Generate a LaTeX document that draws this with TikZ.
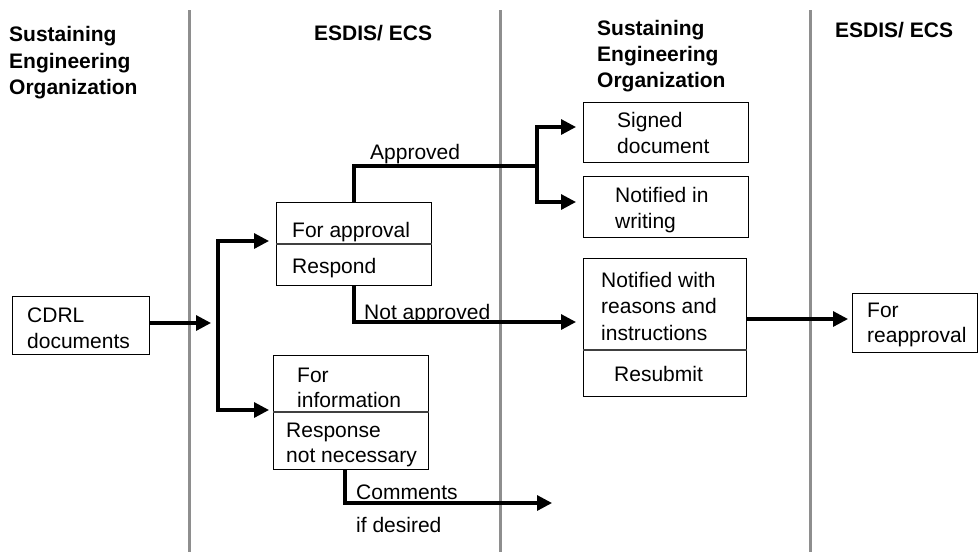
\documentclass[tikz,border=0pt]{standalone}
\usepackage{fontspec}
\setmainfont{Liberation Sans}
\usetikzlibrary{arrows.meta}
\definecolor{lanegray}{HTML}{8E8E8E}
\begin{document}
\begin{tikzpicture}[x=1pt,y=-1pt,
  lane/.style={draw=lanegray, line width=3pt},
  box/.style={draw, line width=1.3pt, anchor=north west, inner sep=0pt},
  split/.style={draw=black!75, line width=1.1pt},
  flow/.style={line width=3.2pt, -{Triangle[length=15pt,width=15pt]}},
  lbl/.style={anchor=base west, inner sep=0pt, font=\fontsize{21}{24}\selectfont},
  head/.style={anchor=base west, inner sep=0pt, font=\fontsize{21}{24}\selectfont\bfseries},
]
\useasboundingbox (0,0) rectangle (979,552);

% swimlane separators
\coordinate (l1t) at (189,10); \coordinate (l1b) at (189,552);
\coordinate (l2t) at (500,10); \coordinate (l2b) at (500,552);
\coordinate (l3t) at (810,10); \coordinate (l3b) at (810,552);
\draw[lane] (l1t) -- (l1b);
\draw[lane] (l2t) -- (l2b);
\draw[lane] (l3t) -- (l3b);

% lane headings
\node[head] (h1a) at (9,41) {Sustaining};
\node[head] (h1b) at (9,68) {Engineering};
\node[head] (h1c) at (9,94) {Organization};
\node[head] (h2)  at (314,40) {ESDIS/ ECS};
\node[head] (h3a) at (597,35) {Sustaining};
\node[head] (h3b) at (597,61) {Engineering};
\node[head] (h3c) at (597,87) {Organization};
\node[head] (h4)  at (835,37) {ESDIS/ ECS};

% boxes
\node[box, minimum width=137pt, minimum height=58pt] (cdrl) at (12,296) {};
\node[box, minimum width=155pt, minimum height=83pt] (appr) at (276,202) {};
\node[box, minimum width=155pt, minimum height=114pt] (info) at (273,355) {};
\node[box, minimum width=165pt, minimum height=60pt] (signed) at (583,102) {};
\node[box, minimum width=165pt, minimum height=61pt] (writ) at (583,176) {};
\node[box, minimum width=163pt, minimum height=138pt] (reasons) at (583,258) {};
\node[box, minimum width=125pt, minimum height=59pt] (reappr) at (852,293) {};

% box dividers
\draw[split] (appr.west |- 0,244) -- (appr.east |- 0,244);
\draw[split] (info.west |- 0,412) -- (info.east |- 0,412);
\draw[split] (reasons.west |- 0,350) -- (reasons.east |- 0,350);

% box texts
\node[lbl] (tc1) at (27,322) {CDRL};
\node[lbl] (tc2) at (27,348) {documents};
\node[lbl] (ta1) at (292,237) {For approval};
\node[lbl] (ta2) at (292,273) {Respond};
\node[lbl] (ti1) at (297,382) {For};
\node[lbl] (ti2) at (297,407) {information};
\node[lbl] (ti3) at (286,437) {Response};
\node[lbl] (ti4) at (286,462) {not necessary};
\node[lbl] (ts1) at (617,127) {Signed};
\node[lbl] (ts2) at (617,153) {document};
\node[lbl] (tw1) at (615,202) {Notified in};
\node[lbl] (tw2) at (615,228) {writing};
\node[lbl] (tr1) at (601,287) {Notified with};
\node[lbl] (tr2) at (601,313) {reasons and};
\node[lbl] (tr3) at (601,340) {instructions};
\node[lbl] (tr4) at (614,381) {Resubmit};
\node[lbl] (tf1) at (867,317) {For};
\node[lbl] (tf2) at (867,342) {reapproval};

% connector labels
\node[lbl] (lapp) at (370,159) {Approved};
\node[lbl] (lrej) at (364,319) {Not approved};
\node[lbl] (lc1) at (356,499) {Comments};
\node[lbl] (lc2) at (356,532) {if desired};

% routing points
\coordinate (cdrlTip) at (211,323);
\coordinate (fork) at (218,241);
\coordinate (forkLow) at (218,410);
\coordinate (apprTip) at (269,241);
\coordinate (infoTip) at (269,410);
\coordinate (apprBend) at (354,166);
\coordinate (apprFork) at (537,166);
\coordinate (sgnTip) at (576,127);
\coordinate (wriTip) at (576,202);
\coordinate (rejBend) at (354,322);
\coordinate (rejTip) at (576,322);
\coordinate (reTip) at (848,319);
\coordinate (cmtBend) at (345,503);
\coordinate (cmtTip) at (552,503);

% connectors
\draw[flow] (cdrl.east |- cdrlTip) -- (cdrlTip);
\draw[flow] (forkLow) -- (fork) -- (apprTip);
\draw[flow] (fork) -- (forkLow) -- (infoTip);
\draw[flow] (appr.north -| apprBend) -- (apprBend) -- (apprFork) |- (sgnTip);
\draw[flow] (apprFork) |- (wriTip);
\draw[flow] (appr.south -| rejBend) -- (rejBend) -- (rejTip);
\draw[flow] (reasons.east |- reTip) -- (reTip);
\draw[flow] (info.south -| cmtBend) -- (cmtBend) -- (cmtTip);
\end{tikzpicture}
\end{document}
